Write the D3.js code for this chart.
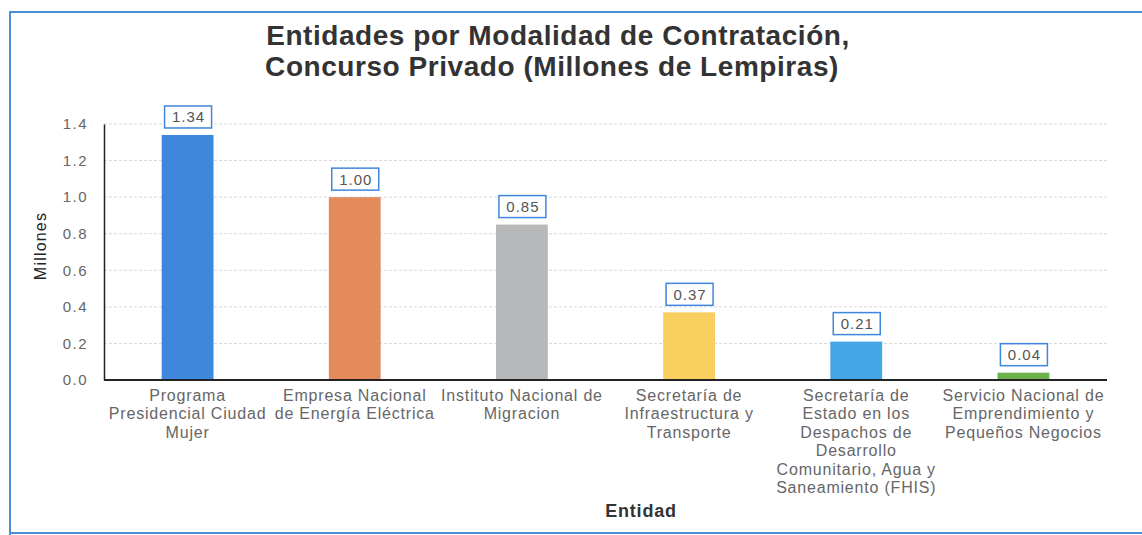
<!DOCTYPE html>
<html>
<head>
<meta charset="utf-8">
<title>Entidades por Modalidad de Contratación</title>
<script src="https://cdnjs.cloudflare.com/ajax/libs/d3/7.8.5/d3.min.js"></script>
<style>
  body { margin: 0; background: #fff; }
  text { font-family: "Liberation Sans", Arial, sans-serif; }
</style>
</head>
<body>
<script>
// data
var categories = [
  ["Programa", "Presidencial Ciudad", "Mujer"],
  ["Empresa Nacional", "de Energía Eléctrica"],
  ["Instituto Nacional de", "Migracion"],
  ["Secretaría de", "Infraestructura y", "Transporte"],
  ["Secretaría de", "Estado en los", "Despachos de", "Desarrollo", "Comunitario, Agua y", "Saneamiento (FHIS)"],
  ["Servicio Nacional de", "Emprendimiento y", "Pequeños Negocios"]
];
var values = [1.34, 1.00, 0.85, 0.37, 0.21, 0.04];
var colors = ["#3f87dc", "#e48b5c", "#b7b8ba", "#f8cf5e", "#45a6e6", "#6cb24c"];
var yTicks = [0, 0.2, 0.4, 0.6, 0.8, 1.0, 1.2, 1.4];

var width = 1142, height = 535;
var plotLeft = 104, plotRight = 1107, plotTop = 124, plotBottom = 380;

var svg = d3.select("body").append("svg")
    .attr("width", width)
    .attr("height", height);

// frame
svg.append("path")
    .attr("d", "M10,535 L10,12 L1142,12")
    .attr("fill", "none")
    .attr("stroke", "#4a8fd6")
    .attr("stroke-width", 2);
svg.append("line")
    .attr("x1", 10).attr("x2", 1142)
    .attr("y1", 533).attr("y2", 533)
    .attr("stroke", "#4a8fd6")
    .attr("stroke-width", 2);

var x = d3.scaleBand()
    .domain(d3.range(values.length))
    .range([plotLeft, plotRight])
    .paddingInner(0.69)
    .paddingOuter(0.345);

var y = d3.scaleLinear()
    .domain([0, 1.4])
    .range([plotBottom, plotTop]);

// gridlines
svg.append("g")
    .selectAll("line")
    .data(yTicks.slice(1))
    .enter().append("line")
    .attr("x1", plotLeft).attr("x2", plotRight)
    .attr("y1", function(d) { return y(d); })
    .attr("y2", function(d) { return y(d); })
    .attr("stroke", "#d9d9d9")
    .attr("stroke-dasharray", "3,2");

// y axis
var yAxis = svg.append("g")
    .attr("transform", "translate(" + plotLeft + ",0)")
    .call(d3.axisLeft(y).tickValues(yTicks).tickFormat(d3.format(".1f")).tickSize(0).tickPadding(16));
yAxis.select(".domain").attr("stroke", "#222").attr("stroke-width", 1.5);
yAxis.selectAll("text")
    .attr("fill", "#666")
    .style("font-size", "15px")
    .style("letter-spacing", "1.5px")
    .style("font-family", "Liberation Sans, Arial, sans-serif");

// bars
svg.append("g")
    .selectAll("rect")
    .data(values)
    .enter().append("rect")
    .attr("x", function(d, i) { return x(i); })
    .attr("y", function(d) { return y(d); })
    .attr("width", x.bandwidth())
    .attr("height", function(d) { return y(0) - y(d); })
    .attr("fill", function(d, i) { return colors[i]; });

// x axis line
svg.append("line")
    .attr("x1", plotLeft).attr("x2", plotRight)
    .attr("y1", y(0)).attr("y2", y(0))
    .attr("stroke", "#222")
    .attr("stroke-width", 2);

// value labels
var labels = svg.append("g")
    .selectAll("g")
    .data(values)
    .enter().append("g")
    .attr("transform", function(d, i) {
      return "translate(" + (x(i) + x.bandwidth() / 2) + "," + (y(d) - 18) + ")";
    });
labels.append("rect")
    .attr("x", -23).attr("y", -11)
    .attr("width", 47).attr("height", 22)
    .attr("fill", "#fff")
    .attr("stroke", "#3f87dc")
    .attr("stroke-width", 1.5);
labels.append("text")
    .attr("x", 1)
    .attr("text-anchor", "middle")
    .attr("dy", "0.36em")
    .attr("fill", "#555")
    .style("font-size", "15px")
    .style("letter-spacing", "1px")
    .text(function(d) { return d.toFixed(2); });

// category labels
var cat = svg.append("g")
    .selectAll("text")
    .data(categories)
    .enter().append("text")
    .attr("text-anchor", "middle")
    .attr("fill", "#666")
    .style("font-size", "16px")
    .style("letter-spacing", "0.8px")
    .attr("transform", function(d, i) {
      return "translate(" + (x(i) + x.bandwidth() / 2) + "," + (y(0) + 21) + ")";
    });
cat.selectAll("tspan")
    .data(function(d) { return d; })
    .enter().append("tspan")
    .attr("x", 0)
    .attr("y", function(d, i) { return i * 18.4; })
    .text(function(d) { return d; });

// titles
var title = svg.append("text")
    .attr("text-anchor", "middle")
    .attr("fill", "#333")
    .style("font-size", "28px")
    .style("font-weight", "bold")
    .style("letter-spacing", "0.55px");
title.append("tspan").attr("x", 558).attr("y", 45)
    .text("Entidades por Modalidad de Contratación,");
title.append("tspan").attr("x", 552).attr("y", 76)
    .text("Concurso Privado (Millones de Lempiras)");

svg.append("text")
    .attr("transform", "translate(46,246) rotate(-90)")
    .attr("text-anchor", "middle")
    .attr("fill", "#222")
    .style("font-size", "16px")
    .style("letter-spacing", "1.2px")
    .text("Millones");

svg.append("text")
    .attr("x", 641).attr("y", 517)
    .attr("text-anchor", "middle")
    .attr("fill", "#333")
    .style("font-size", "18px")
    .style("font-weight", "bold")
    .style("letter-spacing", "0.8px")
    .text("Entidad");
</script>
</body>
</html>
